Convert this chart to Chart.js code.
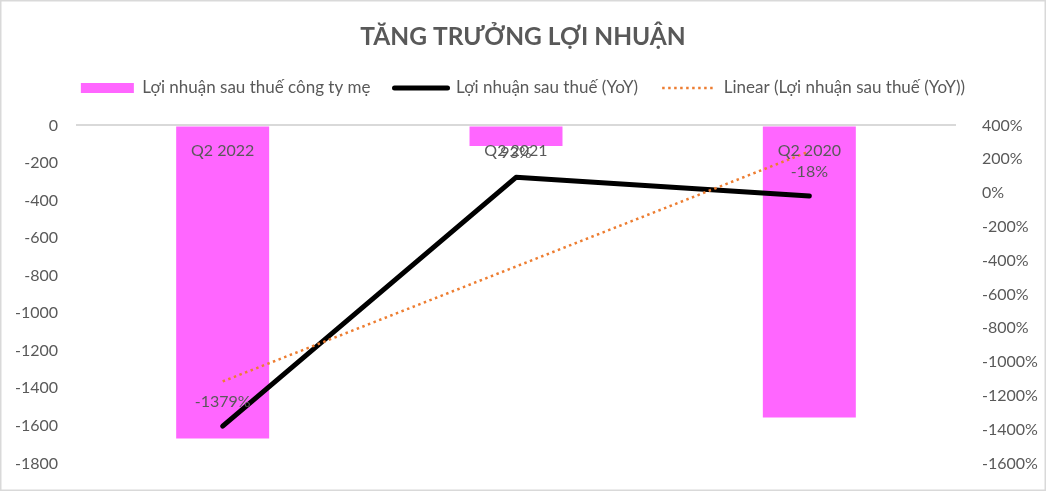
<!DOCTYPE html>
<html><head><meta charset="utf-8">
<script src="https://cdn.jsdelivr.net/npm/chart.js@4.4.1/dist/chart.umd.min.js"></script>
<style>html,body{margin:0;padding:0;background:#fff}#wrap{width:1046px;height:491px;position:relative}</style>
</head><body><div id="wrap"><canvas id="c"></canvas></div>
<script>
const categories = ['Q2 2022', 'Q2 2021', 'Q2 2020'];
const profitParent = [-1668, -110, -1556];
const profitYoY = [-1379, 93, -18];
const trendYoY = [-1115, -435, 246];
const seriesNames = ['Lợi nhuận sau thuế công ty mẹ', 'Lợi nhuận sau thuế (YoY)', 'Linear (Lợi nhuận sau thuế (YoY))'];
const titleText = 'TĂNG TRƯỞNG LỢI NHUẬN';

const TXT = '#595959';
const FONT = 'Lato, "Noto Sans", sans-serif';

const overlay = {
  id: 'overlay',
  afterInit(chart) {
    const lg = chart.legend;
    if (lg) {
      const f = lg.fit.bind(lg);
      lg.fit = function () { f(); this.height += 19; };
    }
  },
  afterDatasetsDraw(chart) {
    const ctx = chart.ctx;
    const x = chart.scales.x, y = chart.scales.y, y1 = chart.scales.y1;
    ctx.save();
    ctx.fillStyle = TXT;
    ctx.font = '16px ' + FONT;
    ctx.textAlign = 'center';
    ctx.textBaseline = 'middle';
    const y0 = y.getPixelForValue(0);
    categories.forEach((c, i) => {
      ctx.fillText(c, x.getPixelForValue(i), y0 + 25);
    });
    profitYoY.forEach((v, i) => {
      ctx.fillText(v + '%', x.getPixelForValue(i), y1.getPixelForValue(v) - 24);
    });
    ctx.restore();
  },
  afterDraw(chart) {
    const ctx = chart.ctx;
    ctx.save();
    ctx.strokeStyle = '#d9d9d9';
    ctx.lineWidth = 1.5;
    ctx.strokeRect(0.75, 0.75, chart.width - 1.5, chart.height - 1.5);
    ctx.restore();
  }
};

new Chart(document.getElementById('c'), {
  type: 'bar',
  data: {
    labels: categories,
    datasets: [
      { type: 'line', label: seriesNames[2], data: trendYoY, yAxisID: 'y1', borderColor: '#ED7D31',
        borderWidth: 2.5, borderDash: [2.5, 3.5], pointRadius: 0, fill: false, order: 0 },
      { type: 'line', label: seriesNames[1], data: profitYoY, yAxisID: 'y1', borderColor: '#000000',
        borderWidth: 5, borderCapStyle: 'round', borderJoinStyle: 'round', pointRadius: 0, fill: false, tension: 0, order: 1 },
      { type: 'bar', label: seriesNames[0], data: profitParent, yAxisID: 'y', backgroundColor: '#FF66FF',
        barPercentage: 0.317, categoryPercentage: 1, order: 2 }
    ]
  },
  options: {
    responsive: true,
    maintainAspectRatio: false,
    animation: false,
    devicePixelRatio: 1,
    layout: { padding: { left: 0, right: 0, top: 0, bottom: 20.5 } },
    plugins: {
      tooltip: { enabled: false },
      title: {
        display: true, text: titleText, color: TXT,
        font: { family: FONT, size: 24.5, weight: 'bold' },
        padding: { top: 22, bottom: 4 }
      },
      legend: {
        display: true, position: 'top',
        labels: {
          color: TXT, font: { family: FONT, size: 17 },
          usePointStyle: true, pointStyleWidth: 53, boxHeight: 10, padding: 24,
          generateLabels() {
            return [
              { text: seriesNames[0], pointStyle: 'rect', fillStyle: '#FF66FF', strokeStyle: '#FF66FF', lineWidth: 0, fontColor: TXT, datasetIndex: 2 },
              { text: seriesNames[1], pointStyle: 'line', fillStyle: '#000', strokeStyle: '#000', lineWidth: 5, lineCap: 'round', fontColor: TXT, datasetIndex: 1 },
              { text: seriesNames[2], pointStyle: 'line', fillStyle: '#ED7D31', strokeStyle: '#ED7D31', lineWidth: 2.5, lineDash: [2.5, 3.5], fontColor: TXT, datasetIndex: 0 }
            ];
          }
        }
      }
    },
    scales: {
      x: { display: false, offset: true },
      y: {
        position: 'left', min: -1800, max: 0,
        ticks: { stepSize: 200, color: TXT, font: { family: FONT, size: 16 }, padding: 18, callback: (v) => String(v) },
        grid: { drawTicks: false, color: (c) => c.tick && c.tick.value === 0 ? '#d9d9d9' : 'rgba(0,0,0,0)', lineWidth: 2 },
        border: { display: false },
        afterFit(s) { s.width = 76; }
      },
      y1: {
        position: 'right', min: -1600, max: 400,
        ticks: { stepSize: 200, color: TXT, font: { family: FONT, size: 16 }, padding: 18, callback: (v) => v + '%' },
        grid: { display: false, drawOnChartArea: false },
        border: { display: false },
        afterFit(s) { s.width = 90; }
      }
    }
  },
  plugins: [overlay]
});
</script></body></html>
